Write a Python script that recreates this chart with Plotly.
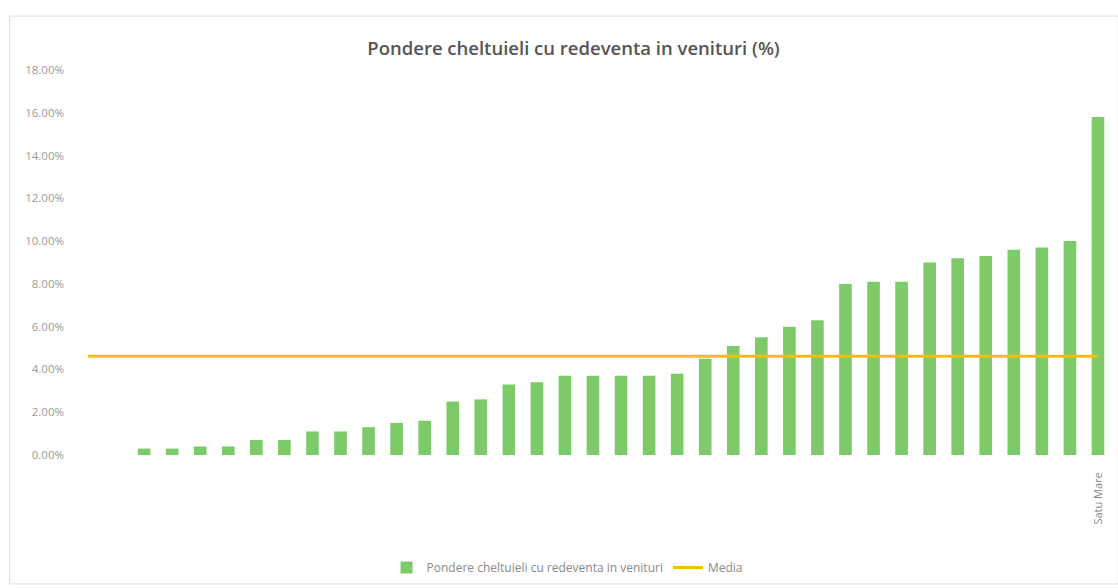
import plotly.graph_objects as go

# Category positions (first two categories have no bar)
positions = list(range(37))
values = [None, None,
          0.3, 0.3, 0.4, 0.4, 0.7, 0.7, 1.1, 1.1, 1.3, 1.5, 1.6,
          2.5, 2.6, 3.3, 3.4, 3.7, 3.7, 3.7, 3.7, 3.8,
          4.5, 5.1, 5.5, 6.0, 6.3,
          8.0, 8.1, 8.1, 9.0, 9.2, 9.3, 9.6, 9.7, 10.0, 15.8]
media = [4.62] * 37
tick_positions = [36]
tick_labels = ["Satu Mare"]
y_ticks = [0, 2, 4, 6, 8, 10, 12, 14, 16, 18]
y_tick_text = ["0.00%", "2.00%", "4.00%", "6.00%", "8.00%", "10.00%",
               "12.00%", "14.00%", "16.00%", "18.00%"]

font_family = "Open Sans, Liberation Sans, sans-serif"

fig = go.Figure()
fig.add_trace(go.Bar(
    x=positions, y=values,
    name="Pondere cheltuieli cu redeventa in venituri",
    marker=dict(color="#7ccb68", line=dict(width=0)),
    width=0.45,
))
fig.add_trace(go.Scatter(
    x=positions, y=media, mode="lines", name="Media",
    line=dict(color="#f7bd14", width=3),
))

fig.update_layout(
    width=1118, height=588,
    paper_bgcolor="white", plot_bgcolor="white",
    margin=dict(l=74, r=6, t=70, b=133),
    title=dict(text="Pondere cheltuieli cu redeventa in venituri (%)",
               x=0.513, xanchor="center", y=0.918, yanchor="middle",
               font=dict(family=font_family, size=18.5, color="#555555", weight=600)),
    showlegend=True,
    legend=dict(orientation="h", x=0.475, xanchor="center",
                yref="container", y=0.035, yanchor="middle",
                font=dict(family=font_family, size=12, color="#8a8a8a"),
                itemwidth=30),
    font=dict(family=font_family),
)
fig.update_xaxes(
    range=[-0.5, 36.5],
    tickmode="array", tickvals=tick_positions, ticktext=tick_labels,
    tickangle=-90, tickfont=dict(size=11, color="#888888"), ticklabelstandoff=14,
    showgrid=False, zeroline=False, showline=False, ticks="",
    automargin=False,
)
fig.update_yaxes(
    range=[0, 18], tickmode="array", tickvals=y_ticks, ticktext=y_tick_text,
    tickfont=dict(size=11.5, color="#9a9a9a"), ticklabelstandoff=9,
    showgrid=False, zeroline=False, showline=False, ticks="",
    automargin=False,
)
# light frame around the chart area
fig.add_shape(type="rect", xref="paper", yref="paper",
              x0=-0.062, x1=1.006, y0=-0.335, y1=1.14,
              line=dict(color="#dddddd", width=1), layer="below")

fig.write_html("out.html", post_script="document.body.style.margin='0';",
               config={"displayModeBar": False})
